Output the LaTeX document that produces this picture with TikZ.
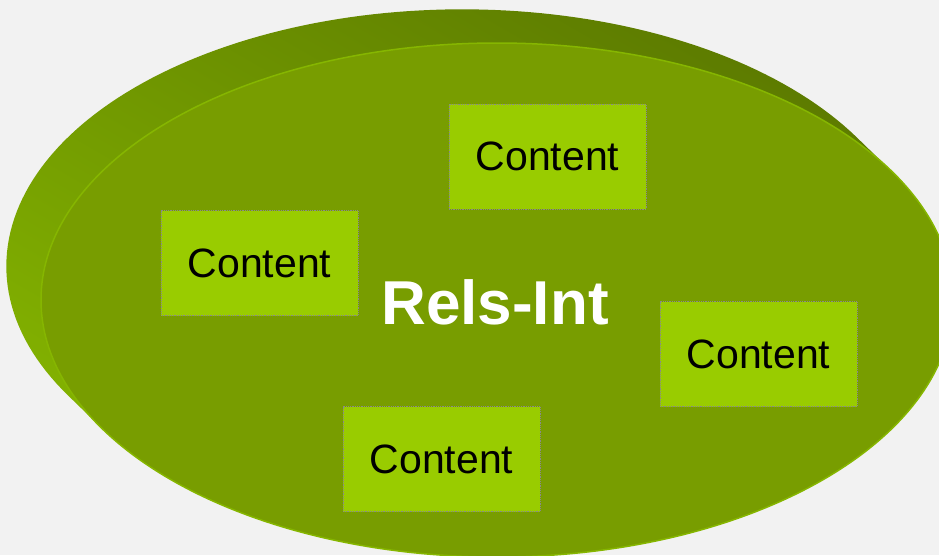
\documentclass[tikz,border=0pt]{standalone}
\usepackage{fontspec}
\setmainfont{Liberation Sans}
\definecolor{bg}{HTML}{F2F2F2}
\definecolor{topface}{HTML}{789D00}
\definecolor{sidedark}{HTML}{5C7A00}
\definecolor{sidelight}{HTML}{84B400}
\definecolor{rim}{HTML}{86B600}
\definecolor{boxfill}{HTML}{99CC00}
\definecolor{boxline}{HTML}{8A8A8A}
\begin{document}
\begin{tikzpicture}[x=1pt,y=-1pt,
  cbox/.style={draw=boxline, densely dotted, line width=0.8pt, fill=boxfill,
    minimum width=197pt, minimum height=105pt, inner sep=0pt,
    font=\fontsize{41}{48}\selectfont, text=black},
  title/.style={font=\bfseries\fontsize{62}{70}\selectfont, text=white, inner sep=0pt}]
\fill[bg] (0,0) rectangle (939,555);
\useasboundingbox (0,0) rectangle (939,555);
\clip (0,0) rectangle (939,555);
% side of the disc
\shade[top color=sidedark, bottom color=sidelight, shading angle=-30]
  plot[domain=30.13:210.13, samples=120] ({462.3+456*cos(\x)}, {266.3-257*sin(\x)})
  -- plot[domain=-149.87:30.13, samples=120] ({497+456*cos(\x)}, {300-257*sin(\x)})
  -- cycle;
% top face
\fill[topface, draw=rim, line width=1.5pt] (497,300) ellipse (456pt and 257pt);
\node[title] (t) at (495,302) {Rels-Int};
\node[cbox] (b1) at (547.5,156.7) {Content};
\node[cbox] (b2) at (259.5,263) {Content};
\node[cbox] (b3) at (758.5,354) {Content};
\node[cbox] (b4) at (441.5,459) {Content};
\end{tikzpicture}
\end{document}
